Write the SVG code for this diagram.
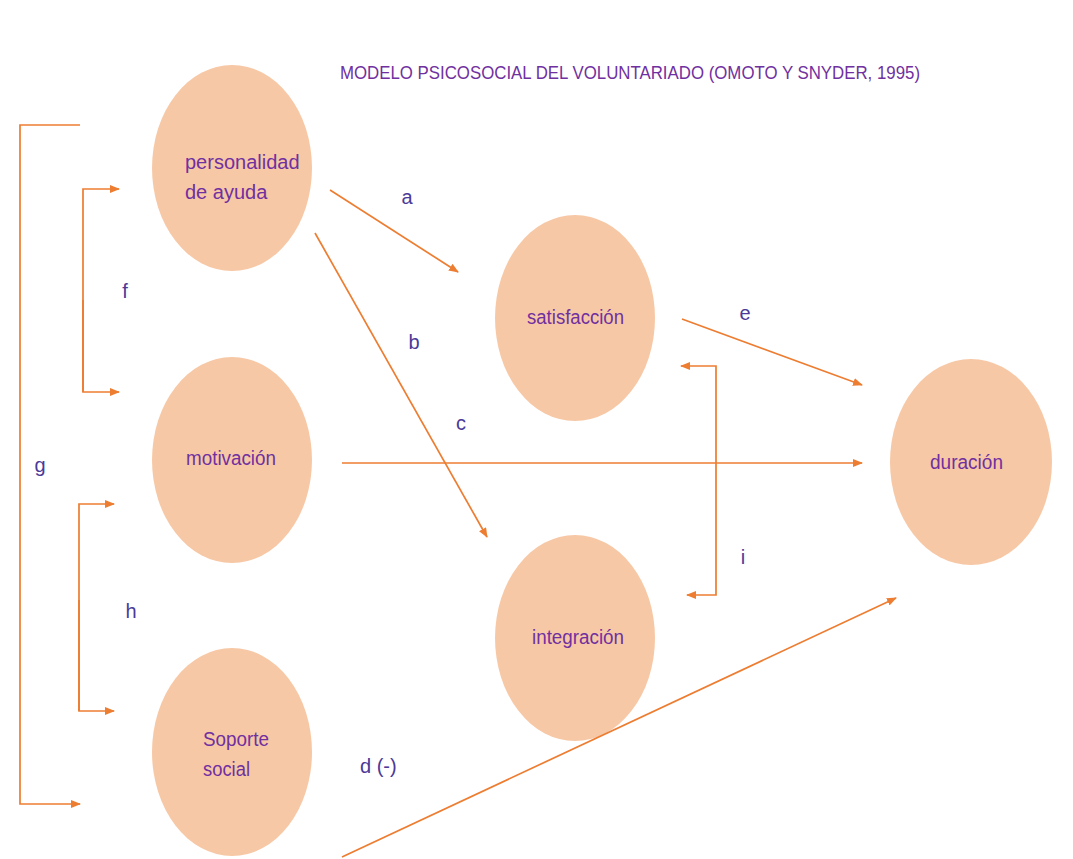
<svg xmlns="http://www.w3.org/2000/svg" width="1073" height="859" viewBox="0 0 1073 859">
<defs>
<marker id="ah" markerWidth="10" markerHeight="8" refX="9" refY="4" orient="auto" markerUnits="userSpaceOnUse">
<path d="M0,0 L10,4 L0,8 Z" fill="#ED7D31"/>
</marker>
<style>
.node{fill:#F7C8A6;}
.nt{font-family:"Liberation Sans",Arial,sans-serif;font-size:20px;fill:#7030A0;}
.lt{font-family:"Liberation Sans",Arial,sans-serif;font-size:20px;fill:#4B3A98;}
.ca{fill:none;stroke:#ED7D31;stroke-width:1.7;marker-end:url(#ah);}
.title{font-family:"Liberation Sans",Arial,sans-serif;font-size:18px;fill:#7030A0;}
</style>
</defs>
<rect width="1073" height="859" fill="#FFFFFF"/>
<text class="title" x="340" y="79" textLength="580" lengthAdjust="spacingAndGlyphs">MODELO PSICOSOCIAL DEL VOLUNTARIADO (OMOTO Y SNYDER, 1995)</text>

<g id="n-personalidad">
<ellipse class="node" cx="232" cy="168" rx="80" ry="103"/>
<text class="nt" x="185" y="169" font-size="21">personalidad</text>
<text class="nt" x="185" y="199" font-size="21">de ayuda</text>
</g>
<g id="n-motivacion">
<ellipse class="node" cx="232" cy="460" rx="80" ry="103"/>
<text class="nt" x="186" y="465" textLength="90" lengthAdjust="spacingAndGlyphs">motivación</text>
</g>
<g id="n-soporte">
<ellipse class="node" cx="232" cy="752" rx="80" ry="104"/>
<text class="nt" x="203" y="746" textLength="66" lengthAdjust="spacingAndGlyphs">Soporte</text>
<text class="nt" x="203" y="776" textLength="47" lengthAdjust="spacingAndGlyphs">social</text>
</g>
<g id="n-satisfaccion">
<ellipse class="node" cx="575" cy="318" rx="80" ry="103"/>
<text class="nt" x="527" y="324" textLength="97" lengthAdjust="spacingAndGlyphs">satisfacción</text>
</g>
<g id="n-integracion">
<ellipse class="node" cx="575" cy="638" rx="80" ry="103"/>
<text class="nt" x="532" y="644" textLength="92" lengthAdjust="spacingAndGlyphs">integración</text>
</g>
<g id="n-duracion">
<ellipse class="node" cx="971" cy="462" rx="81" ry="103"/>
<text class="nt" x="930" y="469" textLength="73" lengthAdjust="spacingAndGlyphs">duración</text>
</g>

<g id="connectors">
<polyline class="ca" points="80,125 20,125 20,804 80,804"/>
<polyline class="ca" points="83,392 83,189 119,189"/>
<polyline class="ca" points="83,300 83,392 119,392"/>
<polyline class="ca" points="79,711 79,504 114,504"/>
<polyline class="ca" points="79,600 79,711 114,711"/>
<line class="ca" x1="330" y1="190" x2="458" y2="272"/>
<line class="ca" x1="315" y1="233" x2="487" y2="537"/>
<line class="ca" x1="682" y1="319" x2="862" y2="385"/>
<line class="ca" x1="342" y1="463" x2="862" y2="463"/>
<polyline class="ca" points="716,480 716,366 681,366"/>
<polyline class="ca" points="716,480 716,595 687,595"/>
<line class="ca" x1="342" y1="857" x2="896" y2="598"/>
</g>

<g id="labels">
<text class="lt" x="407" y="204" text-anchor="middle">a</text>
<text class="lt" x="414" y="349" text-anchor="middle">b</text>
<text class="lt" x="461" y="430" text-anchor="middle">c</text>
<text class="lt" x="745" y="320" text-anchor="middle">e</text>
<text class="lt" x="125" y="298" text-anchor="middle">f</text>
<text class="lt" x="40" y="472" text-anchor="middle">g</text>
<text class="lt" x="131" y="618" text-anchor="middle">h</text>
<text class="lt" x="743" y="564" text-anchor="middle">i</text>
<text class="lt" x="360" y="773">d (-)</text>
</g>
</svg>
